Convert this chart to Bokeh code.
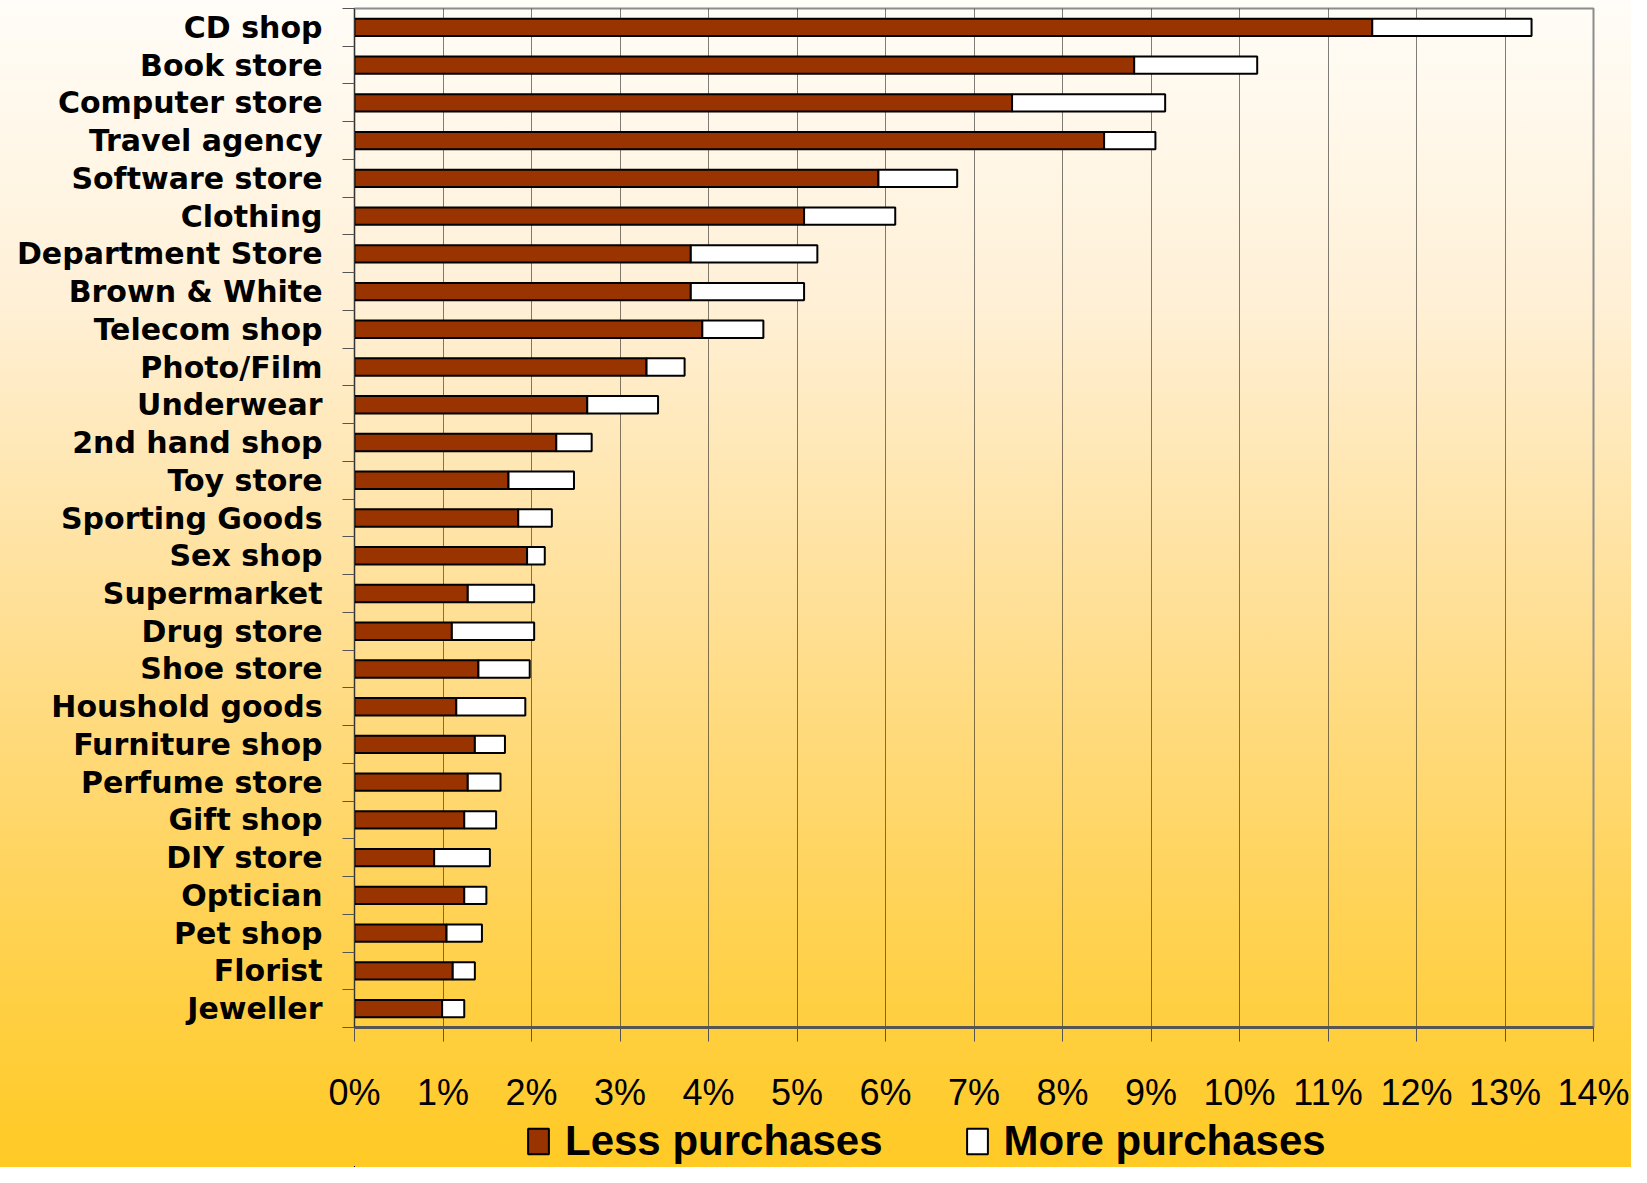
from bokeh.plotting import figure
from bokeh.layouts import column
from bokeh.models import (ColumnDataSource, FixedTicker, PrintfTickFormatter, Range1d,
                          Legend, LegendItem)
from bokeh.embed import file_html
from bokeh.resources import INLINE

categories = ["CD shop", "Book store", "Computer store", "Travel agency", "Software store",
              "Clothing", "Department Store", "Brown & White", "Telecom shop", "Photo/Film",
              "Underwear", "2nd hand shop", "Toy store", "Sporting Goods", "Sex shop",
              "Supermarket", "Drug store", "Shoe store", "Houshold goods", "Furniture shop",
              "Perfume store", "Gift shop", "DIY store", "Optician", "Pet shop", "Florist",
              "Jeweller"]
less_purchases = [11.50, 8.81, 7.43, 8.47, 5.92, 5.08, 3.80, 3.80, 3.93, 3.30,
                  2.63, 2.28, 1.74, 1.85, 1.95, 1.28, 1.10, 1.40, 1.15, 1.36,
                  1.28, 1.24, 0.90, 1.24, 1.04, 1.11, 0.99]
more_purchases = [1.80, 1.39, 1.73, 0.58, 0.89, 1.03, 1.43, 1.28, 0.69, 0.43,
                  0.80, 0.40, 0.74, 0.38, 0.20, 0.75, 0.93, 0.58, 0.78, 0.34,
                  0.37, 0.36, 0.63, 0.25, 0.40, 0.25, 0.25]
x_ticks = list(range(0, 15))
series_names = ["Less purchases", "More purchases"]
series_colors = ["#993300", "#ffffff"]

n = len(categories)
ypos = [n - 1 - i for i in range(n)]
source = ColumnDataSource(dict(y=ypos, cat=categories, less=less_purchases, more=more_purchases))

p = figure(output_backend="svg", toolbar_location=None,
           width=1631, height=1115,
           min_border_left=354, min_border_right=38, min_border_top=8, min_border_bottom=0,
           x_range=Range1d(0, 14), y_range=Range1d(-0.5, n - 0.5))

p.background_fill_color = None
p.border_fill_color = None
p.outline_line_color = "#8c8c8c"
p.outline_line_width = 2

p.hbar_stack(["less", "more"], y="y", height=0.46, source=source,
             color=series_colors, line_color="black", line_width=2)

# x axis
xa = p.xaxis[0]
xa.ticker = FixedTicker(ticks=x_ticks)
xa.formatter = PrintfTickFormatter(format="%d%%")
xa.minor_tick_line_color = None
xa.major_tick_in = 0
xa.major_tick_out = 14
xa.major_tick_line_color = "#555555"
xa.axis_line_color = "#555555"
xa.axis_line_width = 3
xa.major_label_text_font = "Liberation Sans"
xa.major_label_text_font_size = "36px"
xa.major_label_text_color = "black"
xa.major_label_standoff = 30

# y axis: labels at category centres, ticks at band boundaries
ya = p.yaxis[0]
ya.ticker = FixedTicker(ticks=ypos, minor_ticks=[k - 0.5 for k in range(n + 1)])
ya.major_label_overrides = {y: c for y, c in zip(ypos, categories)}
ya.major_tick_line_color = None
ya.major_tick_in = 0
ya.major_tick_out = 0
ya.minor_tick_in = 0
ya.minor_tick_out = 12
ya.minor_tick_line_color = "#555555"
ya.axis_line_color = "#333333"
ya.axis_line_width = 1
ya.major_label_text_font = "DejaVu Sans"
ya.major_label_text_font_style = "bold"
ya.major_label_text_font_size = "30px"
ya.major_label_text_color = "black"
ya.major_label_standoff = 20

p.xgrid.ticker = FixedTicker(ticks=x_ticks)
p.xgrid.grid_line_color = "black"
p.xgrid.grid_line_alpha = 0.5
p.xgrid.grid_line_width = 1
p.ygrid.grid_line_color = None

# legend strip below the chart (its frame is aligned with the chart frame)
lf = figure(output_backend="svg", toolbar_location=None, width=1631, height=52,
            min_border=0, x_axis_location=None, y_axis_location=None,
            x_range=Range1d(100, 101), y_range=Range1d(100, 101))
lf.background_fill_color = None
lf.border_fill_color = None
lf.outline_line_color = None
lf.grid.visible = False
legend_renderers = lf.hbar_stack(["less", "more"], y="y", height=0.46, source=source,
                                 color=series_colors, line_color="black", line_width=2)
items = [LegendItem(label=name, renderers=[r]) for name, r in zip(series_names, legend_renderers)]
lg = Legend(items=items, orientation="horizontal", location=(171, 2),
            glyph_width=26, glyph_height=32, label_standoff=14, spacing=81,
            padding=0, margin=0, background_fill_alpha=0, border_line_color=None,
            label_text_font="Liberation Sans", label_text_font_style="bold",
            label_text_font_size="42px", label_text_color="black")
lf.add_layout(lg, "center")

layout = column(p, lf, spacing=0)
layout.styles = {"background": "linear-gradient(to bottom, #FFFDF8 0%, #FFF0D6 26%, #FFDF94 53%, #FFD253 79%, #FFCA24 100%)"}

open("out.html", "w").write(file_html(layout, INLINE))
